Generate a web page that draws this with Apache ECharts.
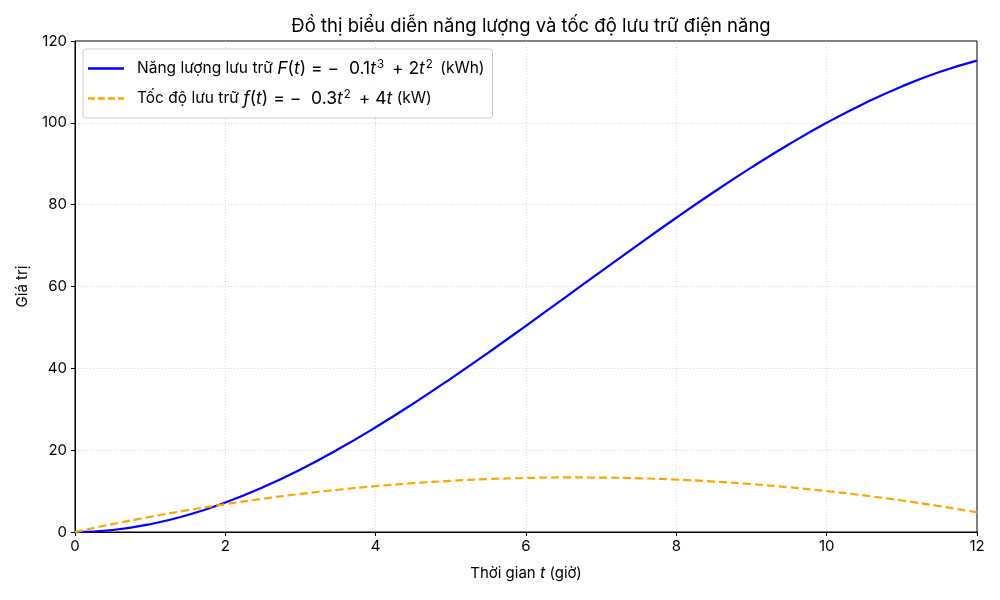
<!DOCTYPE html>
<html>
<head>
<meta charset="utf-8">
<script src="https://cdn.jsdelivr.net/npm/echarts@6/dist/echarts.min.js"></script>
<style>
  html, body { margin: 0; padding: 0; background: #fff; }
  #main { width: 1000px; height: 600px; }
</style>
</head>
<body>
<div id="main"></div>
<script>
// thời gian (giờ)
var tValues = [0, 0.5, 1, 1.5, 2, 2.5, 3, 3.5, 4, 4.5, 5, 5.5, 6, 6.5, 7, 7.5, 8, 8.5, 9, 9.5, 10, 10.5, 11, 11.5, 12];
// năng lượng lưu trữ (kWh)
var energy = [0, 0.49, 1.9, 4.16, 7.2, 10.94, 15.3, 20.21, 25.6, 31.39, 37.5, 43.86, 50.4, 57.04, 63.7, 70.31, 76.8, 83.09, 89.1, 94.76, 100, 104.74, 108.9, 112.41, 115.2];
// tốc độ lưu trữ (kW)
var rate = [0, 1.93, 3.7, 5.33, 6.8, 8.13, 9.3, 10.33, 11.2, 11.93, 12.5, 12.93, 13.2, 13.33, 13.3, 13.13, 12.8, 12.33, 11.7, 10.93, 10, 8.93, 7.7, 6.33, 4.8];

var xTicks = [0, 2, 4, 6, 8, 10, 12];
var yTicks = [0, 20, 40, 60, 80, 100, 120];

var seriesNames = ['energy', 'rate'];
var legendLabels = {
  energy: 'Năng lượng lưu trữ {i|F}{m|(}{i|t}{m|) = −  0.1}{i|t}{s|3}{m| + 2}{i|t}{s|2} (kWh)',
  rate: 'Tốc độ lưu trữ {i|f}{m|(}{i|t}{m|) = −  0.3}{i|t}{s|2}{m| + 4}{i|t} (kW)'
};

// legend icons: solid and dashed line
var solidIcon = 'path://M0,0 H36 V2 H0 Z';
var dashedIcon = 'path://M0,0 H7 V2 H0 Z M10,0 H17 V2 H10 Z M20,0 H27 V2 H20 Z M30,0 H36 V2 H30 Z';

function pairs(ys) {
  return tValues.map(function (t, i) { return [t, ys[i]]; });
}

var font = 'Inter, "Noto Sans", sans-serif';

var myChart = echarts.init(document.getElementById('main'));
myChart.setOption({
  animation: false,
  textStyle: { fontFamily: font },
  title: {
    text: 'Đồ thị biểu diễn năng lượng và tốc độ lưu trữ điện năng',
    left: 526,
    textAlign: 'center',
    top: 12,
    textStyle: { fontSize: 18.5, fontWeight: 'normal', color: '#000', fontFamily: font }
  },
  grid: {
    left: 75, right: 23, top: 41, bottom: 68,
    show: true, borderColor: '#000', borderWidth: 1
  },
  legend: {
    left: 83, top: 49,
    orient: 'vertical',
    itemWidth: 36, itemHeight: 2.5, itemGap: 11,
    symbolKeepAspect: false,
    padding: [10, 8, 10, 5],
    borderColor: '#ccc', borderWidth: 1, borderRadius: 3,
    backgroundColor: 'rgba(255,255,255,0.8)',
    formatter: function (name) { return legendLabels[name]; },
    textStyle: {
      fontSize: 15.5, color: '#000', fontFamily: font, lineHeight: 19,
      padding: [0, 0, 0, 8],
      rich: {
        i: { fontStyle: 'italic', fontSize: 17.5, fontFamily: font, lineHeight: 19 },
        m: { fontSize: 17.5, fontFamily: font, lineHeight: 19 },
        s: { fontSize: 11.5, fontFamily: font, lineHeight: 19, verticalAlign: 'top', padding: [0, 3, 0, 1] }
      }
    },
    data: [
      { name: 'energy', icon: solidIcon, itemStyle: { color: '#0000ff' } },
      { name: 'rate', icon: dashedIcon, itemStyle: { color: '#ffa500' } }
    ]
  },
  xAxis: {
    type: 'value', min: 0, max: 12, interval: 2,
    name: 'Thời gian {i|t} (giờ)', nameLocation: 'middle', nameGap: 33,
    nameTextStyle: { fontSize: 15, color: '#000',
      rich: { i: { fontStyle: 'italic', fontSize: 16, color: '#000' } } },
    axisLine: { show: true, onZero: false, lineStyle: { color: '#000', width: 1 } },
    axisTick: { show: true, inside: false, length: 4, lineStyle: { color: '#000' } },
    axisLabel: { fontSize: 15, color: '#000', margin: 7,
      formatter: function (v) { return xTicks.indexOf(v) >= 0 ? String(v) : ''; } },
    splitLine: { show: true, showMinLine: false, showMaxLine: false,
      lineStyle: { color: '#ccc', type: [1, 2], width: 0.8 } }
  },
  yAxis: {
    type: 'value', min: 0, max: 120, interval: 20,
    name: 'Giá trị', nameLocation: 'middle', nameGap: 45,
    nameTextStyle: { fontSize: 15, color: '#000' },
    axisLine: { show: true, lineStyle: { color: '#000', width: 1 } },
    axisTick: { show: true, inside: false, length: 4, lineStyle: { color: '#000' } },
    axisLabel: { fontSize: 15, color: '#000', margin: 8,
      formatter: function (v) { return yTicks.indexOf(v) >= 0 ? String(v) : ''; } },
    splitLine: { show: true, showMinLine: false, showMaxLine: false,
      lineStyle: { color: '#ccc', type: [1, 2], width: 0.8 } }
  },
  series: [
    {
      name: 'energy', type: 'line', smooth: true, symbol: 'none',
      data: pairs(energy),
      lineStyle: { color: '#0000ff', width: 2.2 },
      itemStyle: { color: '#0000ff' }
    },
    {
      name: 'rate', type: 'line', smooth: true, symbol: 'none',
      data: pairs(rate),
      lineStyle: { color: '#ffa500', width: 2.2, type: [8, 4] },
      itemStyle: { color: '#ffa500' }
    }
  ]
});
</script>
</body>
</html>
